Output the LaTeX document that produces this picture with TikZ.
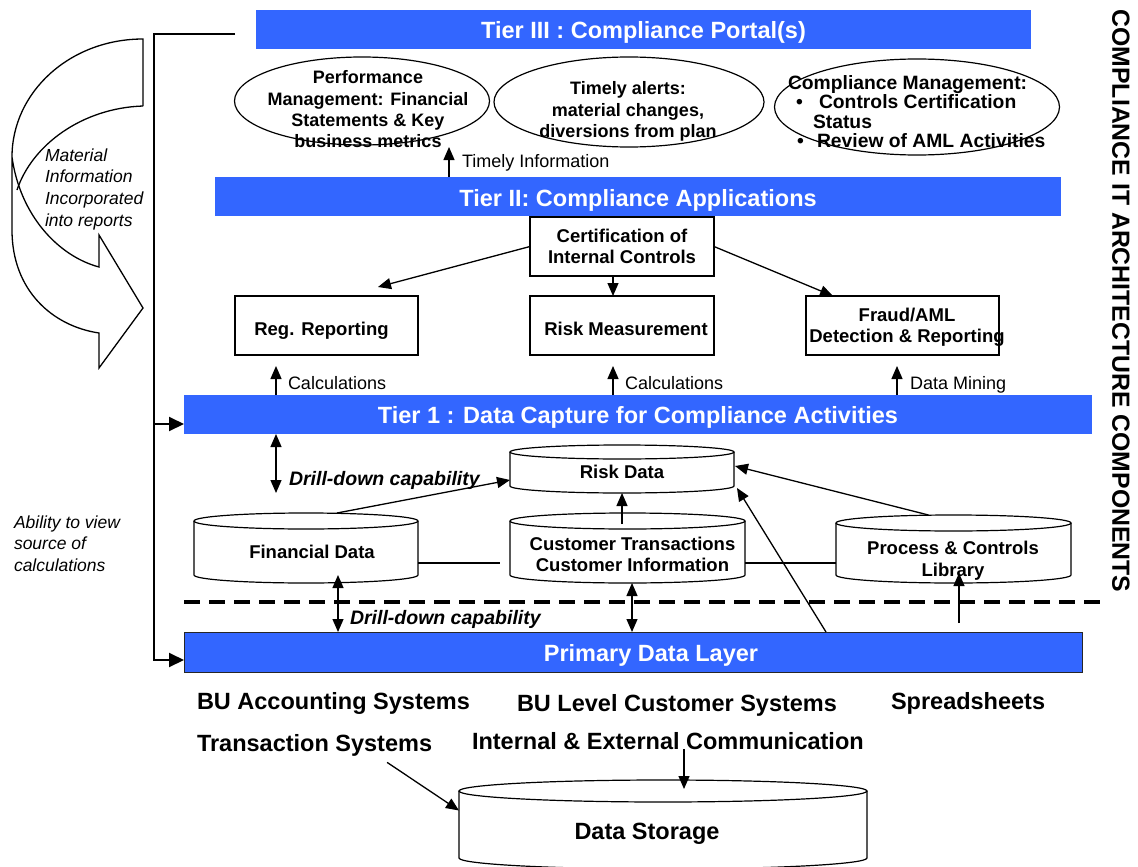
\documentclass[tikz,border=0pt]{standalone}
\usepackage{fontspec}
\setmainfont{Liberation Sans}
\usetikzlibrary{arrows.meta,calc,shapes.geometric}
\definecolor{tierblue}{RGB}{51,102,255}

% font sizes (1pt = 1 unit of the drawing grid)
\newcommand\barfont{\fontsize{23.5}{28}\selectfont\bfseries}
\newcommand\boxfont{\fontsize{18.5}{21.5}\selectfont\bfseries}
\newcommand\bubfont{\fontsize{18}{21.3}\selectfont\bfseries}
\newcommand\compfont{\fontsize{19.3}{21}\selectfont\bfseries}
\newcommand\labfont{\fontsize{18}{22}\selectfont}
\newcommand\notefont{\fontsize{17.5}{21.7}\selectfont\itshape}
\newcommand\drillfont{\fontsize{19.5}{23}\selectfont\bfseries\itshape}

% database cylinder: name, left x, right x, top y, bottom y, end radius,
% text centre x, text centre y, text
\newcommand\dbcyl[9]{%
  \pgfmathsetmacro\cylcx{(#2+#3)/2}%
  \pgfmathsetmacro\cylrx{(#3-#2)/2}%
  \pgfmathsetmacro\cylyt{#4+#6}%
  \pgfmathsetmacro\cylyb{#5-#6}%
  \pgfmathsetmacro\cylkx{0.5523*\cylrx}%
  \pgfmathsetmacro\cylky{0.5523*#6}%
  \draw[cylline] ({#2},{\cylyt}) -- ({#2},{\cylyb})
    .. controls ({#2},{\cylyb+\cylky}) and ({\cylcx-\cylkx},{#5}) .. ({\cylcx},{#5})
    .. controls ({\cylcx+\cylkx},{#5}) and ({#3},{\cylyb+\cylky}) .. ({#3},{\cylyb})
    -- ({#3},{\cylyt});
  \draw[cylline] ({\cylcx},{\cylyt}) ellipse [x radius=\cylrx pt, y radius=#6 pt];
  \node[minimum width={(#3-#2)*1pt}, minimum height={(#5-#4)*1pt}] (#1) at ({\cylcx},{(#4+#5)/2}) {};
  \node[font=\boxfont, align=center] (#1-t) at (#7,#8) {#9};
}

\begin{document}
\begin{tikzpicture}[x=1pt,y=-1pt,
  every node/.style={inner sep=0pt, outer sep=0pt},
  >={Triangle[length=13pt,width=11pt]},
  conn/.style={line width=1.3pt},
  cylline/.style={line width=1.2pt},
  bar/.style={fill=tierblue, anchor=north west},
  bartext/.style={anchor=base, text=white, font=\barfont},
  appbox/.style={draw, line width=1.2pt, anchor=north west},
  boxtext/.style={font=\boxfont, align=center},
  bubble/.style={draw, ellipse, line width=1.2pt},
  lab/.style={anchor=base west, font=\labfont},
  drill/.style={anchor=base west, font=\drillfont},
  source/.style={anchor=base west, font=\barfont},
  note/.style={anchor=north west, align=left, font=\notefont},
  bigtip/.style={-{Triangle[length=15pt,width=14pt]}}
]
\useasboundingbox (0,0) rectangle (1138,867);

% ---------- tier bars ----------
\node[bar, minimum width=775, minimum height=39] (t3) at (256,10) {};
\node[bar, minimum width=846, minimum height=39] (t2) at (215,177) {};
\node[bar, minimum width=908, minimum height=39] (tier1) at (184,395) {};
\node[bar, draw=black!85, line width=1pt, minimum width=898, minimum height=40] (prim) at (184,632) {};
\node[bartext] (t3-t) at (643.5,38.3) {Tier III : Compliance Portal(s)};
\node[bartext] (t2-t) at (638,206.5) {Tier II: Compliance Applications};
\node[bartext] (tier1-t) at (638,423.5) {Tier 1 : Data Capture for Compliance Activities};
\node[bartext] (prim-t) at (651,661) {Primary Data Layer};

% ---------- portal bubbles ----------
\node[bubble, minimum width=255, minimum height=88] (e1) at (362,101) {};
\node[bubble, minimum width=270, minimum height=90] (e2) at (629,102) {};
\node[bubble, minimum width=285, minimum height=96] (e3) at (917,107) {};
\node[font=\bubfont, align=center] (e1-t) at (368,109.5)
  {Performance\\Management: Financial\\Statements \& Key\\business metrics};
\node[font=\bubfont, align=center] (e2-t) at (628,111.5)
  {Timely alerts:\\material changes,\\diversions from plan};
\node[anchor=base west, font=\compfont] (e3-a) at (788,89.5) {Compliance Management:};
\node[anchor=base west, font=\compfont] (e3-b1) at (796,108.5) {•};
\node[anchor=base west, font=\compfont] (e3-b) at (819,108.5) {Controls Certification};
\node[anchor=base west, font=\compfont] (e3-c) at (813,128) {Status};
\node[anchor=base west, font=\compfont] (e3-d1) at (797,147.5) {•};
\node[anchor=base west, font=\compfont] (e3-d) at (817,147.5) {Review of AML Activities};

\coordinate (ti) at (449,0);
\draw[conn,->] (t2.north -| ti) -- ($(e1.south -| ti)+(0,2)$);
\node[lab] (ti-l) at (462,167.5) {Timely Information};

% ---------- applications ----------
\node[appbox, boxtext, minimum width=184, minimum height=59] (cert) at (530,217) {Certification of\\Internal Controls};
\node[appbox, minimum width=183, minimum height=59] (reg) at (235,296) {};
\node[appbox, minimum width=184, minimum height=59] (risk) at (530,296) {};
\node[appbox, minimum width=193, minimum height=59] (fraud) at (806,296) {};
\node[boxtext, anchor=base] (reg-t) at (321.5,335.5) {Reg. Reporting};
\node[boxtext, anchor=base] (risk-t) at (626,335.5) {Risk Measurement};
\node[boxtext] (fraud-t) at (907,327.5) {Fraud/AML\\Detection \& Reporting};

\draw[conn,->] (cert.west) -- ($(reg.north east)+(-40,-9)$);
\draw[conn,->] ($(cert.south)+(-9,0)$) -- ($(risk.north)+(-9,0)$);
\draw[conn,->] (cert.east) -- ($(fraud.north west)+(27,0)$);

\coordinate (c1) at (276,0);
\coordinate (c2) at (613,0);
\coordinate (c3) at (897,0);
\draw[conn,->] (tier1.north -| c1) -- ($(reg.south -| c1)+(0,11)$);
\draw[conn,->] (tier1.north -| c2) -- ($(risk.south -| c2)+(0,11)$);
\draw[conn,->] (tier1.north -| c3) -- ($(fraud.south -| c3)+(0,11)$);
\node[lab] (l1) at (288,389.5) {Calculations};
\node[lab] (l2) at (625,389.5) {Calculations};
\node[lab] (l3) at (910,389.5) {Data Mining};

% ---------- data capture stores ----------
\dbcyl{riskdb}{510}{734}{445}{493}{7}{622}{471.5}{Risk Data}
\dbcyl{findb}{194}{418}{513}{583}{8}{312}{552}{Financial Data}
\dbcyl{custdb}{510}{745}{513}{583}{8}{632.5}{554.5}{Customer Transactions\\Customer Information}
\dbcyl{procdb}{836}{1071}{515}{583}{8}{953}{560.5}{Process \& Controls\\Library}

\draw[conn,<->] (tier1.south -| c1) -- ($(findb.north -| c1)+(0,-20)$);
\node[drill] (dd1) at (289,485) {Drill-down capability};

\coordinate (cr) at (622,0);
\coordinate (lk) at (0,563);
\draw[conn,->] ($(findb.north)+(31,0)$) -- ($(riskdb.west)+(0,11)$);
\draw[conn,->] ($(custdb.north -| cr)+(0,11)$) -- (riskdb.south -| cr);
\draw[conn,->] ($(procdb.north)+(-25,0)$) -- ($(riskdb.east)+(1,-3)$);
\draw[conn,->] ($(prim.north west)+(642,0)$) -- ($(riskdb.south east)+(3,-5)$);
\draw[conn] (findb.east |- lk) -- ($(custdb.west |- lk)+(-10,0)$);
\draw[conn] (custdb.east |- lk) -- (procdb.west |- lk);

\coordinate (px) at (959,0);
\draw[conn,->] ($(prim.north -| px)+(0,-9)$) -- ($(procdb.south -| px)+(0,-10)$);

% boundary between captured data and primary sources
\coordinate (dl) at (184,602);
\coordinate (dr) at (1103,602);
\draw[line width=3.5pt, dash pattern=on 16pt off 9pt] (dl) -- (dr);

\coordinate (d2) at (338,0);
\coordinate (d3) at (632,0);
\draw[conn,<->] ($(findb.south -| d2)+(0,-8)$) -- (prim.north -| d2);
\draw[conn,<->] (custdb.south -| d3) -- (prim.north -| d3);
\node[drill] (dd2) at (350,624) {Drill-down capability};

% ---------- source systems ----------
\node[source] (bu1) at (197,709.5) {BU Accounting Systems};
\node[source] (bu2) at (517,711.5) {BU Level Customer Systems};
\node[source] (sprd) at (891,709.5) {Spreadsheets};
\node[source] (trans) at (197,751.5) {Transaction Systems};
\node[source] (comm) at (472,749) {Internal \& External Communication};

\dbcyl{store}{459}{867}{780}{869}{11}{647}{834}{\barfont Data Storage}

\coordinate (ix) at (684,0);
\draw[conn,->] ($(trans.south east)+(-45,6)$) -- ($(store.west)+(0,-14)$);
\draw[conn,->] (comm.south -| ix) -- ($(store.north -| ix)+(0,9)$);

% ---------- left-hand feedback ----------
\coordinate (btop) at (235,34);
\coordinate (bcorner) at (154,34);
\coordinate (bj1) at (154,424);
\coordinate (bj2) at (154,660);
\draw[line width=2pt, bigtip] (btop) -- (bcorner) -- (bj2) -- (bj2 -| prim.west);
\draw[line width=2pt, bigtip] (bj1) -- (bj1 -| tier1.west);

% curved block arrow
\draw[line width=1.3pt, line join=miter]
  (143,106) -- (143,39)
  .. controls (70,39) and (12,92) .. (12,157)
  -- (12,230)
  .. controls (12,290) and (52,326) .. (99,333)
  -- (99,368) -- (143,308) -- (99,235) -- (99,267)
  .. controls (58,256) and (20,215) .. (12,157);
\draw[line width=1.3pt] (143,106) .. controls (82,108) and (32,145) .. (17,190);

\node[note] (mat) at (45,148.5) {Material\\Information\\Incorporated\\into reports};
\node[note] (abil) at (14,515.5) {Ability to view\\source of\\calculations};

% ---------- side title ----------
\node[rotate=-90, font=\fontsize{24.8}{28}\selectfont\bfseries] (title) at (1121,301)
  {COMPLIANCE IT ARCHITECTURE COMPONENTS};
\end{tikzpicture}
\end{document}
